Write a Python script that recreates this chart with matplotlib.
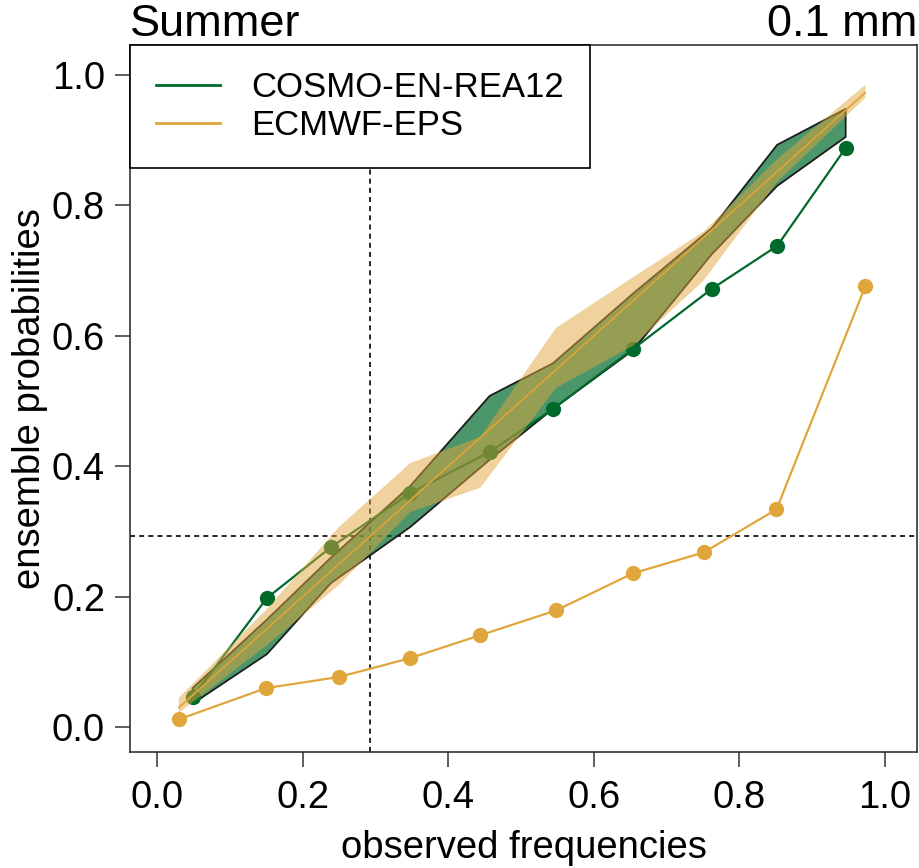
import numpy as np
import matplotlib
matplotlib.use("Agg")
import matplotlib.pyplot as plt
from matplotlib.lines import Line2D

plt.rcParams['font.family'] = ['Liberation Sans', 'DejaVu Sans']

# reliability data
cosmo_x = [0.049, 0.151, 0.239, 0.348, 0.457, 0.544, 0.654, 0.762, 0.852, 0.946]
cosmo_y = [0.046, 0.198, 0.276, 0.359, 0.422, 0.488, 0.580, 0.672, 0.738, 0.888]
cosmo_lo = [0.036, 0.112, 0.221, 0.307, 0.410, 0.488, 0.578, 0.725, 0.830, 0.905]
cosmo_hi = [0.060, 0.165, 0.260, 0.370, 0.508, 0.558, 0.665, 0.765, 0.893, 0.948]

ecmwf_x = [0.030, 0.150, 0.250, 0.348, 0.444, 0.548, 0.654, 0.751, 0.851, 0.973]
ecmwf_y = [0.012, 0.060, 0.077, 0.106, 0.141, 0.179, 0.236, 0.268, 0.334, 0.676]
ecmwf_lo = [0.022, 0.125, 0.218, 0.330, 0.367, 0.520, 0.585, 0.685, 0.835, 0.965]
ecmwf_hi = [0.045, 0.180, 0.307, 0.405, 0.445, 0.612, 0.690, 0.760, 0.870, 0.985]

clim = 0.293
labels = ['COSMO-EN-REA12', 'ECMWF-EPS']
ticks = [0.0, 0.2, 0.4, 0.6, 0.8, 1.0]

green = '#006a2c'
orange = '#e0a63c'

fig = plt.figure(figsize=(9.19, 8.68), dpi=100)
ax = fig.add_axes([130/919, 116/868, 787/919, 707/868])

# consistency bands
ax.fill_between(cosmo_x, cosmo_lo, cosmo_hi, facecolor=green, alpha=0.7,
                edgecolor='none', zorder=2)
ax.plot(cosmo_x + cosmo_x[::-1] + cosmo_x[:1],
        cosmo_lo + cosmo_hi[::-1] + cosmo_lo[:1],
        color='#1c1c1c', lw=1.3, zorder=2.1)
ax.plot([cosmo_x[0], cosmo_x[-1]], [cosmo_x[0], cosmo_x[-1]], color=green, lw=1.2, zorder=2.2)
ax.plot(cosmo_x, cosmo_y, color=green, lw=1.6, marker='o', ms=11,
        mec='none', zorder=3)

ax.fill_between(ecmwf_x, ecmwf_lo, ecmwf_hi, facecolor=orange, alpha=0.5,
                edgecolor='none', zorder=4)
ax.plot([ecmwf_x[0], ecmwf_x[-1]], [ecmwf_x[0], ecmwf_x[-1]], color=orange, lw=1.3, zorder=4.1)
ax.plot(ecmwf_x, ecmwf_y, color=orange, lw=1.6, marker='o', ms=11,
        mec='none', zorder=5)

# climatology
ax.axhline(clim, color='black', lw=1.2, ls=(0, (3, 2.5)), zorder=1)
ax.axvline(clim, color='black', lw=1.2, ls=(0, (3, 2.5)), zorder=1)

ax.set_xlim(-0.037, 1.044)
ax.set_ylim(-0.038, 1.046)
ax.set_xticks(ticks)
ax.set_yticks(ticks)
ax.set_xticklabels([f'{t:.1f}' for t in ticks])
ax.set_yticklabels([f'{t:.1f}' for t in ticks])
ax.tick_params(direction='out', length=11, width=1.1, labelsize=27.5,
               color='#333333')
ax.tick_params(axis='x', pad=9)
ax.tick_params(axis='y', pad=7)
for s in ax.spines.values():
    s.set_linewidth(1.2)
    s.set_color('#333333')

ax.set_xlabel('observed frequencies', fontsize=27.5, labelpad=10)
ax.set_ylabel('ensemble probabilities', fontsize=27.5, labelpad=3)
ax.set_title('Summer', loc='left', fontsize=32.5, pad=1)
ax.set_title('0.1 mm', loc='right', fontsize=32.5, pad=1)

handles = [Line2D([], [], color=green, lw=2), Line2D([], [], color=orange, lw=2)]
leg = ax.legend(handles, labels, loc='upper left', bbox_to_anchor=(0, 1),
                borderaxespad=0, fontsize=25, frameon=True, fancybox=False,
                edgecolor='black', framealpha=1, handlelength=1.85,
                handletextpad=0.9, borderpad=0.75, labelspacing=0.15)
leg.get_frame().set_linewidth(1.2)
leg.set_zorder(6)

fig.savefig('out.png', dpi=100)
